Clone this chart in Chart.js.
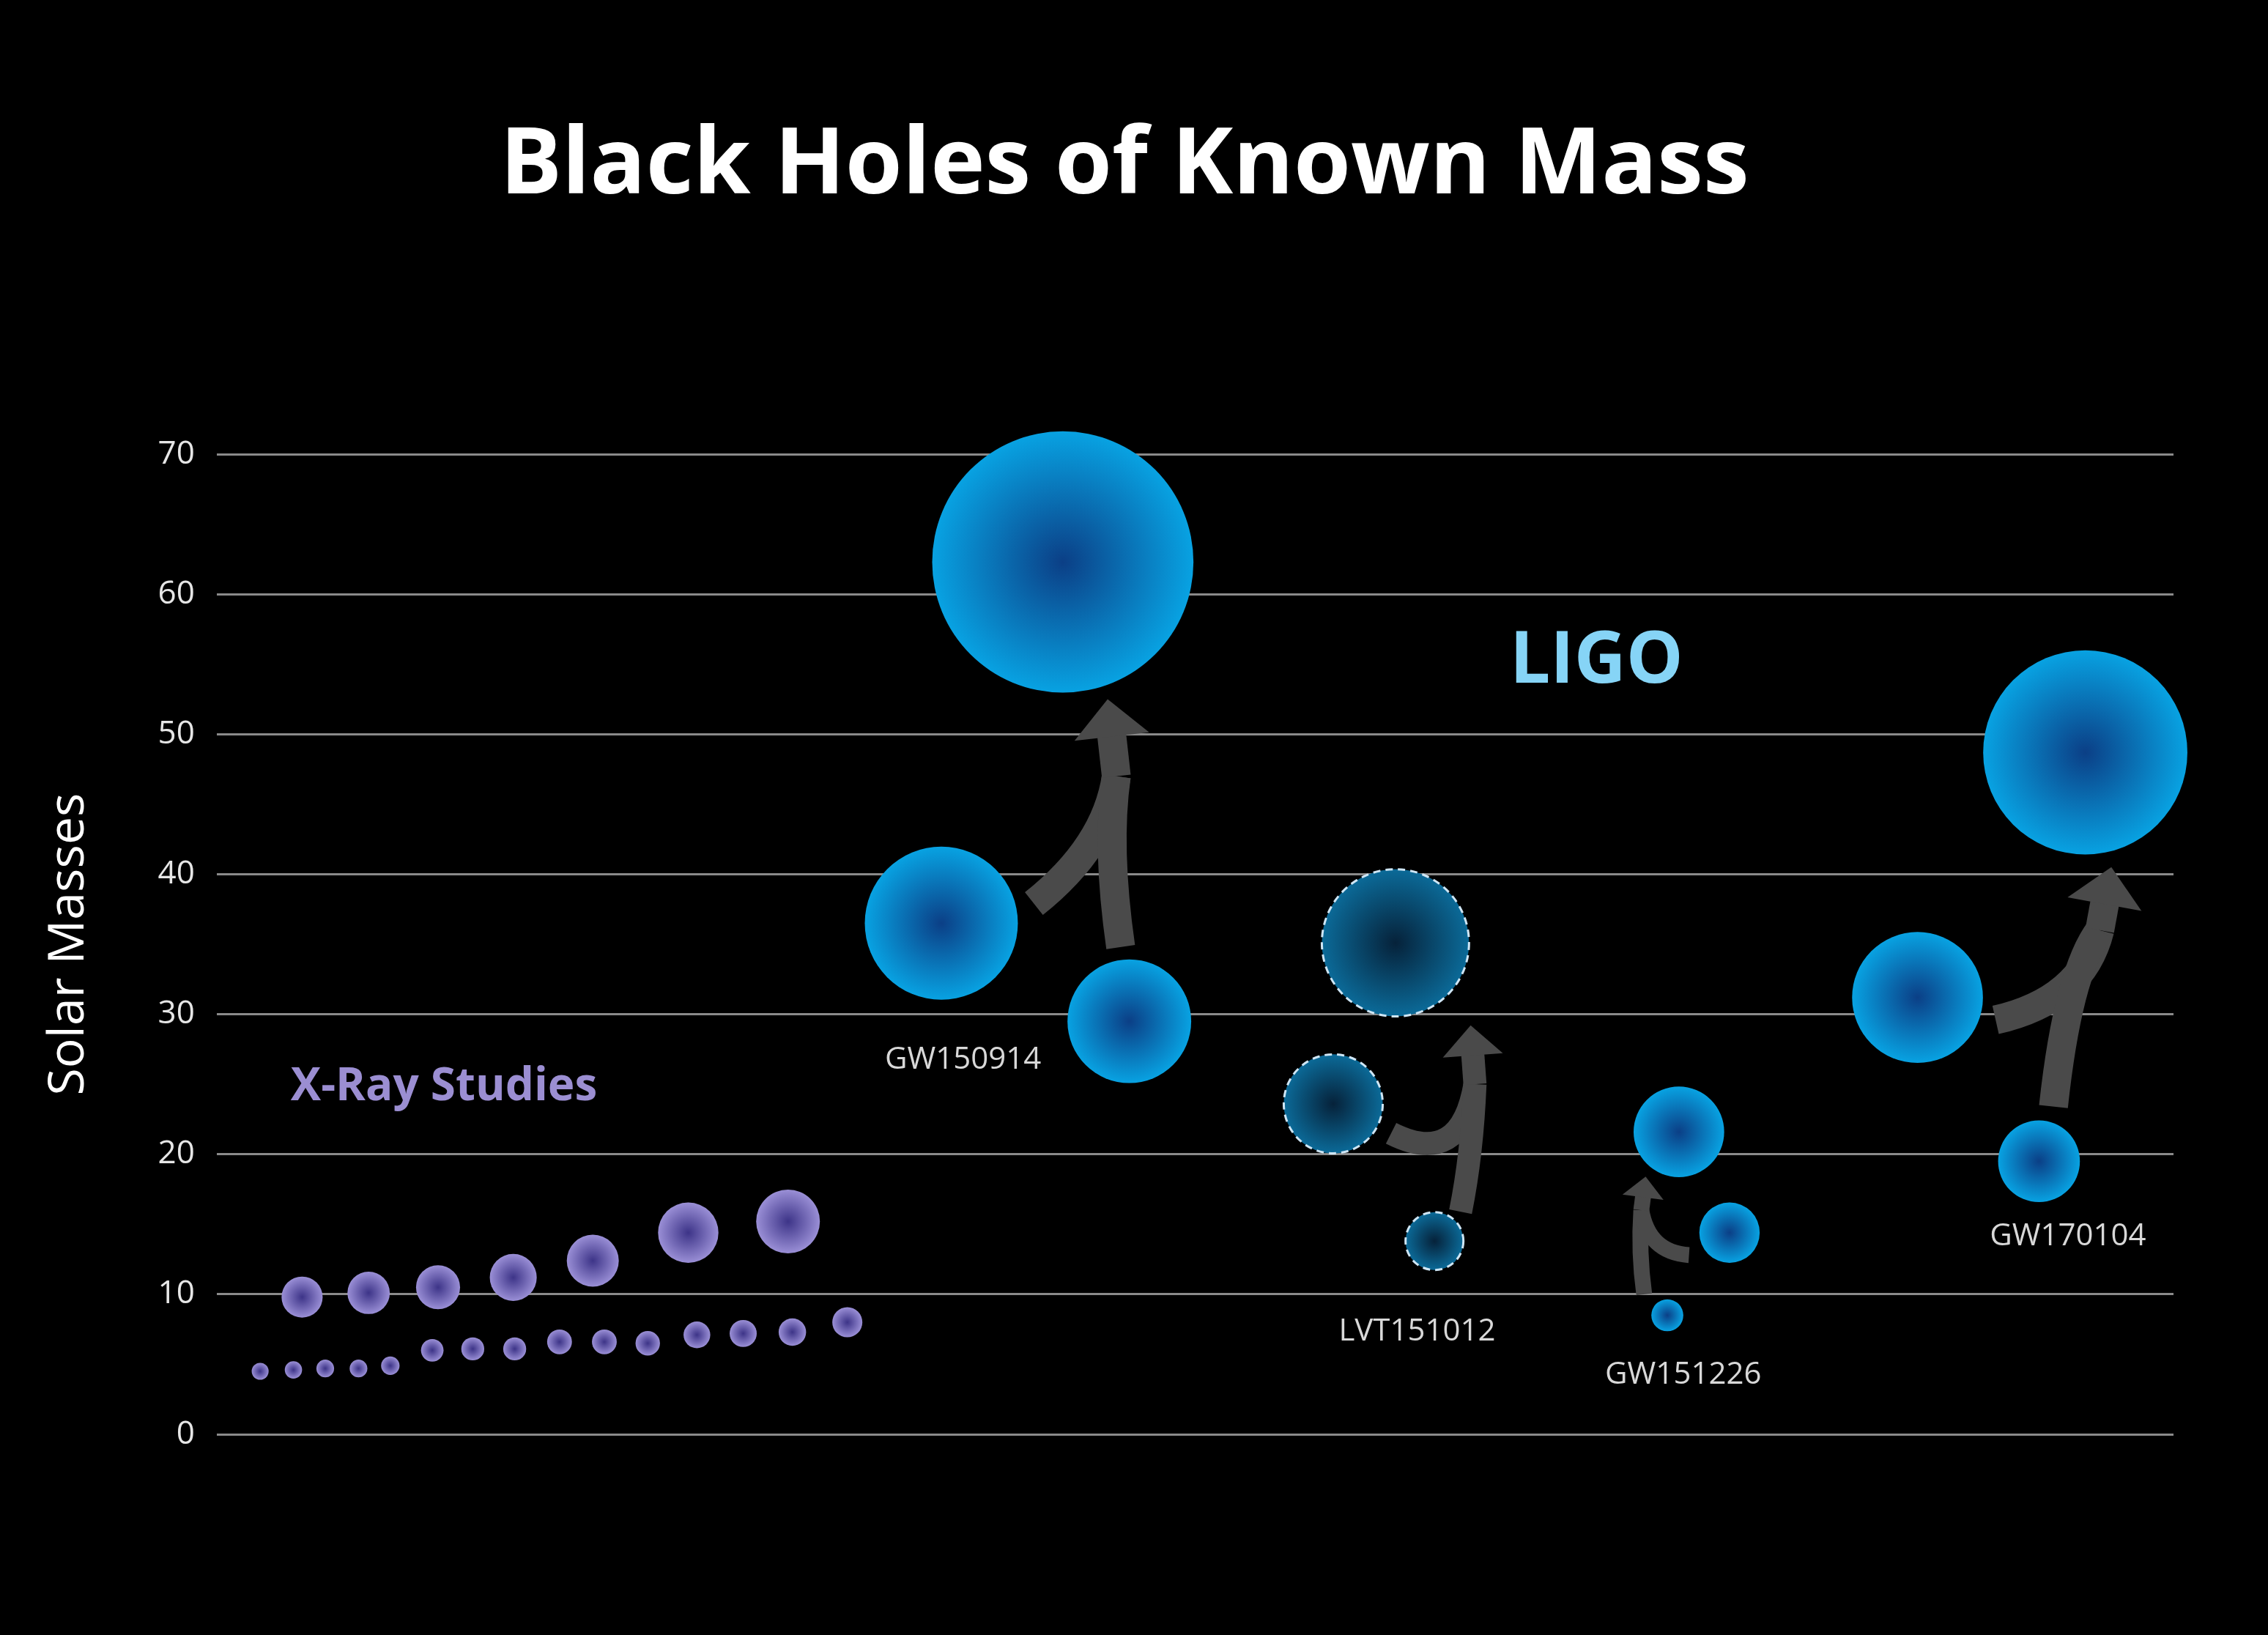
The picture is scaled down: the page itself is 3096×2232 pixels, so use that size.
<!DOCTYPE html>
<html><head><meta charset="utf-8">
<script src="https://cdn.jsdelivr.net/npm/chart.js@4"></script>
<style>html,body{margin:0;background:#000}#w{width:3096px;height:2232px}</style>
</head><body><div id="w"><canvas id="c"></canvas></div>
<script>
const S=1.974;
// X-ray lower row
const xrayLowX=[180,203,225,248,270,299,327,356,387,418,448,482,514,548,586];
const xrayLowM=[4.5,4.6,4.7,4.7,4.9,6.0,6.1,6.1,6.6,6.6,6.5,7.1,7.2,7.3,8.0];
// X-ray upper row
const xrayHighX=[209,255,303,355,410,476,545];
const xrayHighM=[9.8,10.1,10.5,11.2,12.4,14.4,15.2];
// LIGO (solid)
const ligoX=[651,781,735,1161,1196,1153,1326,1410,1442];
const ligoM=[36.5,29.5,62.3,21.6,14.4,8.5,31.2,19.5,48.7];
// LVT151012 (candidate, dashed)
const lvtX=[922,992,965];
const lvtM=[23.6,13.8,35.1];
const yTicks=[0,10,20,30,40,50,60,70];
const eventLabels=[["GW150914",666,733],["LVT151012",980,921],["GW151226",1164,951],["GW170104",1430,855]];
const rad=m=>(m<9?1.3:1.45)*m*S;
const pts=(xs,ms)=>xs.map((x,i)=>({x,y:ms[i],r:rad(ms[i])}));

const gradPlugin={id:'grad',afterDatasetsDraw(ch){
  const c=ch.ctx;
  const pal=[['#3d3488','#9a8fd6'],['#3d3488','#9a8fd6'],['#0b3f86','#08a2e2'],['#06223a','#0b6a98']];
  ch.data.datasets.forEach((ds,di)=>{
    ch.getDatasetMeta(di).data.forEach(el=>{
      const r=el.options.radius;
      const g=c.createRadialGradient(el.x,el.y,0,el.x,el.y,r);
      g.addColorStop(0,pal[di][0]);g.addColorStop(1,pal[di][1]);
      c.save();c.beginPath();c.arc(el.x,el.y,r,0,Math.PI*2);c.fillStyle=g;c.fill();
      if(di===3){c.setLineDash([10,7]);c.lineWidth=3;c.strokeStyle='#cfe6f5';c.stroke();}
      c.restore();
    });
  });
  const X=ch.scales.x,Y=ch.scales.y;
  const P=(x,m)=>[X.getPixelForValue(x),Y.getPixelForValue(m)];
  const arrows=[
    {tails:[[[715,37.9],[765,42]],[[775,34.8],[765,42]]],join:[772,47],tip:[766,52.5],w:20},
    {tails:[[[962,21.5],[1010,19]],[[1010,15.9],[1018,20]]],join:[1020,25],tip:[1017,29.2],w:16},
    {tails:[[[1137,10],[1133,13]],[[1168,12.8],[1140,13]]],join:[1135,16],tip:[1138,18.4],w:11},
    {tails:[[[1380,29.6],[1440,31]],[[1420,23.4],[1430,33]]],join:[1452,36],tip:[1460,40.5],w:20}
  ];
  c.save();c.strokeStyle='#4a4a4a';c.fillStyle='#4a4a4a';c.lineCap='butt';
  arrows.forEach(a=>{
    const j=P(...a.join),t=P(...a.tip),w=a.w*S;
    a.tails.forEach(([s,cp])=>{
      const p0=P(...s),p1=P(...cp);
      c.beginPath();c.moveTo(...p0);c.quadraticCurveTo(p1[0],p1[1],j[0],j[1]);c.lineWidth=w;c.stroke();
    });
    const ang=Math.atan2(t[1]-j[1],t[0]-j[0]);
    const hl=w*1.3,hw=w*1.3;
    const b=[t[0]-Math.cos(ang)*hl,t[1]-Math.sin(ang)*hl];
    c.beginPath();c.moveTo(j[0],j[1]);c.lineTo(b[0]+Math.cos(ang)*2,b[1]+Math.sin(ang)*2);c.lineWidth=w;c.stroke();
    c.beginPath();c.moveTo(...t);
    c.lineTo(b[0]+Math.sin(ang)*hw,b[1]-Math.cos(ang)*hw);
    c.lineTo(b[0]-Math.sin(ang)*hw,b[1]+Math.cos(ang)*hw);c.closePath();c.fill();
  });
  c.restore();
  c.save();c.textAlign='center';c.textBaseline='middle';
  c.fillStyle='#fff';c.font='bold 126px "Open Sans"';c.fillText('Black Holes of Known Mass',1535,228);
  c.fillStyle='#86d4f6';c.font='bold 98px "Open Sans"';c.fillText('LIGO',1104*S,458*S);
  c.fillStyle='#9b8ed2';c.font='bold 62px "Open Sans"';c.fillText('X-Ray Studies',307*S,752*S);
  c.fillStyle='#d8d8d8';c.font='42px "Open Sans"';
  eventLabels.forEach(([t,x,y])=>c.fillText(t,X.getPixelForValue(x),y*S));
  c.restore();
}};

new Chart(document.getElementById('c'),{
  type:'bubble',
  data:{datasets:[
    {data:pts(xrayLowX,xrayLowM)},{data:pts(xrayHighX,xrayHighM)},
    {data:pts(ligoX,ligoM)},{data:pts(lvtX,lvtM)}
  ].map(d=>Object.assign(d,{backgroundColor:'rgba(0,0,0,0)',borderWidth:0,clip:false}))},
  options:{responsive:true,maintainAspectRatio:false,animation:false,
    layout:{autoPadding:false,padding:{top:620,right:129,bottom:274,left:50}},
    plugins:{legend:{display:false},tooltip:{enabled:false}},
    scales:{
      x:{type:'linear',min:150,max:1503,display:false},
      y:{min:0,max:70,afterBuildTicks:s=>{s.ticks=yTicks.map(v=>({value:v}));},
        border:{display:false},
        grid:{color:'#8a8a8a',lineWidth:3,drawTicks:false},
        ticks:{color:'#e6e6e6',font:{size:44,family:'"Open Sans"'},padding:30},
        title:{display:true,text:'Solar Masses',color:'#fff',font:{size:68,family:'"Open Sans"'},padding:{bottom:50}}
      }
    }
  },
  plugins:[gradPlugin]
});
</script></body></html>
